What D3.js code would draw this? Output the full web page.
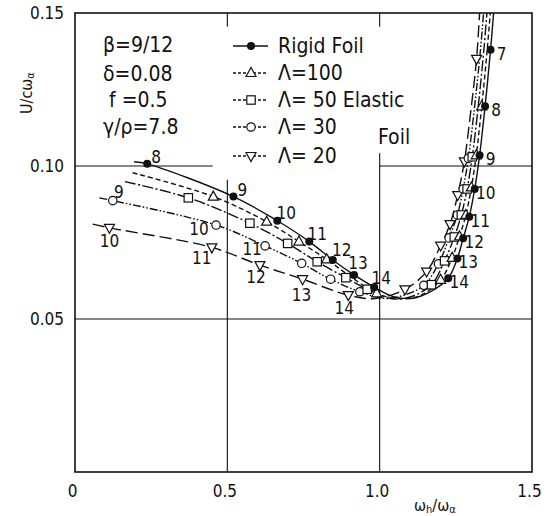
<!DOCTYPE html>
<html><head><meta charset="utf-8">
<script src="https://cdn.jsdelivr.net/npm/d3@7"></script>
<style>
body{margin:0;background:#fff}
text{font-family:"Liberation Sans Narrow","DejaVu Sans Condensed","DejaVu Sans",sans-serif;fill:#111;white-space:pre}
</style>
</head><body>
<svg id="chart" width="549" height="516"></svg>
<script>
// ---------- data ----------
const xTickValues = [0, 0.5, 1.0, 1.5];
const xTickLabels = ["0", "0.5", "1.0", "1.5"];
const yTickValues = [0.05, 0.10, 0.15];
const yTickLabels = ["0.05", "0.10", "0.15"];
const paramTexts = ["β=9/12", "δ=0.08", "f =0.5", "γ/ρ=7.8"];
const legendNames = ["Rigid Foil", "Λ=100", "Λ= 50 Elastic", "Λ= 30", "Λ= 20"];
const legendExtra = "Foil";

// Rigid foil
const rigidCurve = [[0.194,0.1014],[0.237,0.1007],[0.520,0.0900],[0.664,0.0821],[0.769,0.0753],[0.846,0.0693],[0.916,0.0644],[0.982,0.0604],[1.045,0.0573],[1.110,0.0568],[1.170,0.0591],[1.225,0.0633],[1.255,0.0698],[1.274,0.0764],[1.294,0.0834],[1.312,0.0925],[1.328,0.1035],[1.346,0.1195],[1.364,0.1380],[1.374,0.1500]];
const rigidMarks = [[0.237,0.1007],[0.520,0.0900],[0.664,0.0821],[0.769,0.0753],[0.846,0.0693],[0.916,0.0644],[0.982,0.0604],[1.225,0.0633],[1.255,0.0698],[1.274,0.0764],[1.294,0.0834],[1.312,0.0925],[1.328,0.1035],[1.346,0.1195],[1.364,0.1380]];
const rigidLabelsLeft = ["8","9","10","11","12","13","14"];
const rigidLabelsRight = ["14","13","12","11","10","9","8","7"];

// Elastic foil, Lambda = 100
const l100Curve = [[0.189,0.0978],[0.454,0.0900],[0.629,0.0818],[0.735,0.0753],[0.826,0.0695],[0.905,0.0638],[0.990,0.0584],[1.060,0.0567],[1.130,0.0575],[1.200,0.0628],[1.238,0.0700],[1.262,0.0770],[1.283,0.0840],[1.301,0.0930],[1.317,0.1035],[1.335,0.1195],[1.353,0.1380],[1.363,0.1500]];
const l100Marks = [[0.454,0.0900],[0.629,0.0818],[0.735,0.0753],[0.826,0.0695],[0.990,0.0584],[1.200,0.0628],[1.238,0.0700],[1.262,0.0770],[1.283,0.0840],[1.301,0.0930],[1.317,0.1035],[1.335,0.1195]];

// Lambda = 50
const l50Curve = [[0.164,0.0949],[0.372,0.0896],[0.574,0.0813],[0.698,0.0747],[0.795,0.0687],[0.889,0.0635],[0.959,0.0597],[1.040,0.0566],[1.100,0.0572],[1.170,0.0612],[1.213,0.0690],[1.245,0.0768],[1.268,0.0840],[1.287,0.0925],[1.304,0.1030],[1.323,0.1190],[1.342,0.1380],[1.352,0.1500]];
const l50Marks = [[0.372,0.0896],[0.574,0.0813],[0.698,0.0747],[0.795,0.0687],[0.889,0.0635],[0.959,0.0597],[1.170,0.0612],[1.213,0.0690],[1.245,0.0768],[1.268,0.0840],[1.287,0.0925],[1.304,0.1030]];

// Lambda = 30
const l30Curve = [[0.080,0.0896],[0.124,0.0887],[0.463,0.0807],[0.624,0.0739],[0.744,0.0682],[0.839,0.0630],[0.935,0.0589],[1.020,0.0567],[1.080,0.0578],[1.145,0.0610],[1.193,0.0680],[1.228,0.0765],[1.255,0.0840],[1.274,0.0925],[1.291,0.1025],[1.310,0.1180],[1.330,0.1370],[1.341,0.1500]];
const l30Marks = [[0.124,0.0887],[0.463,0.0807],[0.624,0.0739],[0.744,0.0682],[0.839,0.0630],[0.935,0.0589],[1.145,0.0610],[1.193,0.0680],[1.228,0.0765],[1.255,0.0840],[1.274,0.0925],[1.291,0.1025]];
const l30Labels = ["9","10","11"];

// Lambda = 20
const l20Curve = [[0.058,0.0810],[0.113,0.0798],[0.449,0.0734],[0.607,0.0676],[0.747,0.0630],[0.897,0.0578],[0.985,0.0567],[1.083,0.0597],[1.154,0.0655],[1.200,0.0740],[1.231,0.0810],[1.256,0.0905],[1.278,0.1015],[1.298,0.1170],[1.318,0.1350],[1.328,0.1500]];
const l20Marks = [[0.113,0.0798],[0.449,0.0734],[0.607,0.0676],[0.747,0.0630],[0.897,0.0578],[1.083,0.0597],[1.154,0.0655],[1.200,0.0740],[1.231,0.0810],[1.256,0.0905],[1.278,0.1015],[1.318,0.1350]];
const l20Labels = ["10","11","12","13","14"];

// ---------- layout ----------
const M = {left:75, right:532, top:13, bottom:472};
const svg = d3.select("#chart");
const x = d3.scaleLinear().domain([0,1.5]).range([M.left, M.right]);
const y = d3.scaleLinear().domain([0,0.15]).range([M.bottom, M.top]);

svg.append("defs").append("clipPath").attr("id","clip")
  .append("rect").attr("x",M.left).attr("y",M.top).attr("width",M.right-M.left).attr("height",M.bottom-M.top);

const grid = svg.append("g").attr("stroke","#111").attr("stroke-width",1.1);
grid.append("line").attr("x1",x(0)).attr("x2",x(1.5)).attr("y1",y(0.05)).attr("y2",y(0.05));
grid.append("line").attr("x1",x(0)).attr("x2",x(0.452)).attr("y1",y(0.10)).attr("y2",y(0.10));
grid.append("line").attr("x1",x(1.0)).attr("x2",x(1.5)).attr("y1",y(0.10)).attr("y2",y(0.10));
grid.append("line").attr("x1",x(0.5)).attr("x2",x(0.5)).attr("y1",y(0.0)).attr("y2",y(0.0955));
grid.append("line").attr("x1",x(0.5)).attr("x2",x(0.5)).attr("y1",y(0.15)).attr("y2",y(0.1455));
grid.append("line").attr("x1",x(1.0)).attr("x2",x(1.0)).attr("y1",y(0.0)).attr("y2",y(0.1042));
grid.append("line").attr("x1",x(1.0)).attr("x2",x(1.0)).attr("y1",y(0.15)).attr("y2",y(0.1455));

svg.append("rect").attr("x",M.left).attr("y",M.top).attr("width",M.right-M.left).attr("height",M.bottom-M.top)
  .attr("fill","none").attr("stroke","#111").attr("stroke-width",1.6);

const tickFont = '"Liberation Sans Narrow","DejaVu Sans Condensed",sans-serif';
const xAxis = d3.axisBottom(x).tickValues(xTickValues).tickSize(0).tickPadding(0)
  .tickFormat((d,i)=>xTickLabels[i]);
const gx = svg.append("g").attr("transform",`translate(-3,${M.bottom+25})`).call(xAxis);
gx.select(".domain").remove();
gx.selectAll("text").attr("font-size",17).attr("dy",0).attr("fill","#111").style("font-family",tickFont);

const yAxis = d3.axisLeft(y).tickValues(yTickValues).tickSize(0).tickPadding(0)
  .tickFormat((d,i)=>yTickLabels[i]);
const gy = svg.append("g").attr("transform",`translate(${M.left-11},0)`).call(yAxis);
gy.select(".domain").remove();
gy.selectAll("text").attr("font-size",17).attr("fill","#111").style("font-family",tickFont);

const xt = svg.append("text").attr("x",414).attr("y",511).attr("font-size",16);
xt.append("tspan").text("ω");
xt.append("tspan").attr("font-size",11).attr("dy",2).text("h");
xt.append("tspan").attr("dy",-2).text("/ω");
xt.append("tspan").attr("font-size",11).attr("dy",2).text("α");
const yt = svg.append("text").attr("transform","translate(32,114) rotate(-90)").attr("font-size",16);
yt.append("tspan").text("U/cω");
yt.append("tspan").attr("font-size",11).attr("dy",2).text("α");

// ---------- series ----------
const styles = [
  {curve:rigidCurve, marks:rigidMarks, dash:null, sym:"dot"},
  {curve:l100Curve, marks:l100Marks, dash:"5,3", sym:"tri"},
  {curve:l50Curve, marks:l50Marks, dash:"11,2.5,2,2.5", sym:"sq"},
  {curve:l30Curve, marks:l30Marks, dash:"8,2,1.6,2,1.6,2", sym:"circ"},
  {curve:l20Curve, marks:l20Marks, dash:"12,5", sym:"trid"}
];

function drawSym(g, sym, cx, cy){
  if(sym==="dot"){
    g.append("circle").attr("cx",cx).attr("cy",cy).attr("r",4).attr("fill","#111");
  } else if(sym==="circ"){
    g.append("circle").attr("cx",cx).attr("cy",cy).attr("r",4.2).attr("fill","#fff").attr("stroke","#111").attr("stroke-width",1.2);
  } else if(sym==="sq"){
    g.append("rect").attr("x",cx-4.2).attr("y",cy-4.2).attr("width",8.4).attr("height",8.4).attr("fill","#fff").attr("stroke","#111").attr("stroke-width",1.2);
  } else {
    const s = sym==="tri" ? 1 : -1;
    const p = [[cx, cy-5.5*s],[cx-5,cy+3.5*s],[cx+5,cy+3.5*s]];
    g.append("path").attr("d","M"+p.join("L")+"Z").attr("fill","#fff").attr("stroke","#111").attr("stroke-width",1.2);
  }
}

const line = d3.line().x(d=>x(d[0])).y(d=>y(d[1])).curve(d3.curveCatmullRom.alpha(0.5));
const plot = svg.append("g").attr("clip-path","url(#clip)");
styles.slice().reverse().forEach(s=>{
  plot.append("path").attr("d",line(s.curve)).attr("fill","none").attr("stroke","#111")
    .attr("stroke-width",1.4).attr("stroke-dasharray",s.dash);
});
styles.slice().reverse().forEach(s=>{
  const g = plot.append("g");
  s.marks.forEach(d=>drawSym(g, s.sym, x(d[0]), y(d[1])));
});

const lab = svg.append("g").attr("font-size",17).attr("text-anchor","middle");
function putLabels(marks, labels, offs){
  labels.forEach((t,i)=>{
    const o = offs[i];
    lab.append("text").attr("x",x(marks[i][0])+o[0]).attr("y",y(marks[i][1])+o[1])
      .attr("dominant-baseline","central").text(t);
  });
}
putLabels(rigidMarks.slice(0,7), rigidLabelsLeft, [[9,-7],[9,-7],[9,-8],[8,-8],[9,-10],[4,-12],[7,-9]]);
putLabels(rigidMarks.slice(7), rigidLabelsRight, rigidLabelsRight.map(()=>[11,4]));
putLabels(l30Marks.slice(0,3), l30Labels, [[6,-9],[-17,4],[-13,3]]);
putLabels(l20Marks.slice(0,5), l20Labels, [[0,13],[-10,11],[-4,12],[-1,16],[-4,13]]);

// ---------- parameters & legend ----------
const par = svg.append("g").attr("font-size",21);
const parY = [52, 81, 107, 134];
paramTexts.forEach((t,i)=>{
  par.append("text").attr("x", i===2 ? 109 : 103).attr("y",parY[i]).text(t);
});

const legY = [46, 73, 100, 127, 156];
const leg = svg.append("g");
legendNames.forEach((n,i)=>{
  const s = styles[i];
  leg.append("line").attr("x1",233).attr("x2",268).attr("y1",legY[i]).attr("y2",legY[i])
    .attr("stroke","#111").attr("stroke-width",1.4).attr("stroke-dasharray", s.dash ? "3,2" : null);
  drawSym(leg, s.sym, 251, legY[i]);
  leg.append("text").attr("x",278).attr("y",legY[i]+7).attr("font-size",21).text(n);
});
leg.append("text").attr("x",378).attr("y",144).attr("font-size",21).text(legendExtra);
</script>
</body></html>
